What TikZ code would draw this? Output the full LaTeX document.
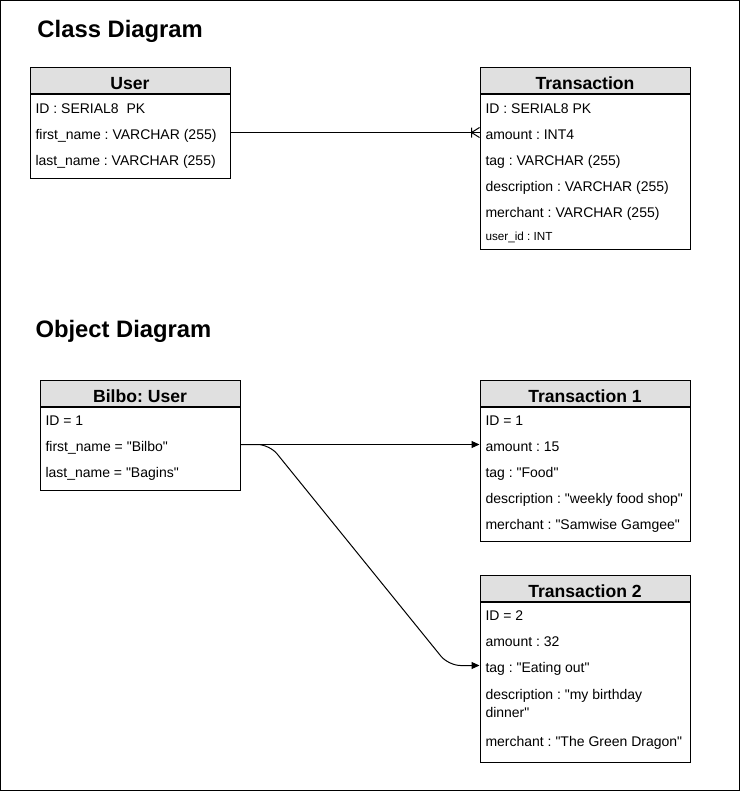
\documentclass[tikz,border=0pt]{standalone}
\usepackage{fontspec}
\newfontfamily\umlfont{Liberation Sans}
\usetikzlibrary{arrows.meta,calc,positioning}
\definecolor{hdrgray}{RGB}{224,224,224}
\frenchspacing

\begin{document}
\begin{tikzpicture}[x=1pt,y=-1pt,line width=1pt,>={Triangle[length=8pt,width=7pt]},
    font=\umlfont,
    title/.style={anchor=base west,inner sep=0pt,font=\umlfont\bfseries\fontsize{23.8}{28}\selectfont},
    hdr/.style={draw,fill=hdrgray,minimum height=26pt,inner sep=0pt,text height=18pt,text depth=0pt,
      font=\umlfont\bfseries\fontsize{17.6}{20}\selectfont},
    body/.style={draw,inner sep=0pt},
    attr/.style={anchor=west,inner sep=0pt,text height=13pt,text depth=0pt,font=\umlfont\fontsize{14}{17}\selectfont},
    smallattr/.style={attr,text height=11pt,font=\umlfont\fontsize{11.7}{14}\selectfont}]
    \useasboundingbox (0,0) rectangle (741,793);
    \draw (0.5,0.5) rectangle (739.5,790.5);

    % class diagram
    \node[title] (classtitle) at (37,37) {Class Diagram};

    \node[hdr,minimum width=200pt] (userhdr) at (130,80) {User};
    \node[body,minimum width=200pt,minimum height=84pt,below=0pt of userhdr] (user) {};
    \foreach \n/\y/\t in {uid/106.5/{ID : SERIAL8\ \ PK},ufirst/132.5/{first\_name : VARCHAR (255)},
        ulast/158.5/{last\_name : VARCHAR (255)}}
      \node[attr] (\n) at (35,\y) {\t};

    \node[hdr,minimum width=210pt] (transhdr) at (585,80) {Transaction};
    \node[body,minimum width=210pt,minimum height=155pt,below=0pt of transhdr] (trans) {};
    \foreach \n/\y/\t in {tid/106.5/{ID : SERIAL8 PK},tamount/132.5/{amount : INT4},
        ttag/158.5/{tag : VARCHAR (255)},tdesc/184.5/{description : VARCHAR (255)},
        tmerch/210.5/{merchant : VARCHAR (255)}}
      \node[attr] (\n) at (485,\y) {\t};
    \node[smallattr] (tuser) at (485,234.5) {user\_id : INT};

    \coordinate (cfoot) at (trans.west |- tamount);
    \draw (user.east |- ufirst) -- (cfoot);
    \draw (cfoot) ++(-8,0) -- ++(8,-5) (cfoot) ++(-8,0) -- ++(8,5)
      (cfoot) ++(-8,-5) -- ++(0,10);

    % object diagram
    \node[title] (objtitle) at (35,337) {Object Diagram};

    \node[hdr,minimum width=200pt] (bilbohdr) at (140,393.5) {Bilbo: User};
    \node[body,minimum width=200pt,minimum height=83pt,below=0pt of bilbohdr] (bilbo) {};
    \foreach \n/\y/\t in {bid/418.5/{ID = 1},bfirst/444.5/{first\_name = "Bilbo"},
        blast/470.5/{last\_name = "Bagins"}}
      \node[attr] (\n) at (45,\y) {\t};

    \node[hdr,minimum width=210pt] (tonehdr) at (585,393.5) {Transaction 1};
    \node[body,minimum width=210pt,minimum height=134pt,below=0pt of tonehdr] (tone) {};
    \foreach \n/\y/\t in {oid/418.5/{ID = 1},oamount/444.5/{amount : 15},otag/470.5/{tag : "Food"},
        odesc/496.5/{description : "weekly food shop"},omerch/522.5/{merchant : "Samwise Gamgee"}}
      \node[attr] (\n) at (485,\y) {\t};

    \node[hdr,minimum width=210pt] (ttwohdr) at (585,588) {Transaction 2};
    \node[body,minimum width=210pt,minimum height=160pt,below=0pt of ttwohdr] (ttwo) {};
    \foreach \n/\y/\t in {wid/613.5/{ID = 2},wamount/639.5/{amount : 32},wtag/665.5/{tag : "Eating out"},
        wdesc/692.5/{description : "my birthday},wdescb/710.5/{dinner"},
        wmerch/740/{merchant : "The Green Dragon"}}
      \node[attr] (\n) at (485,\y) {\t};

    \coordinate (bsrc) at (bilbo.east |- bfirst);
    \draw[->] (bsrc) -- (tone.west |- oamount);
    \draw[->,rounded corners=12pt] (bsrc) -- ++(29,0) -- ($(ttwo.west |- wtag)+(-31,0)$)
      -- (ttwo.west |- wtag);
  \end{tikzpicture}
\end{document}
